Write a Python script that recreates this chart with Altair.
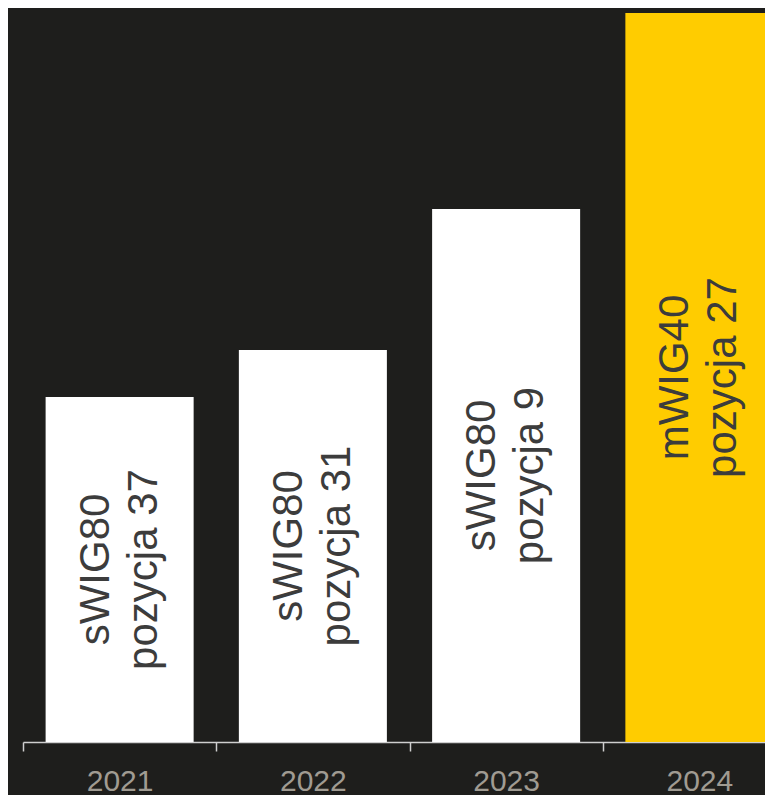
import altair as alt
import pandas as pd

years = ["2021", "2022", "2023", "2024"]
values = [345, 392, 533, 729]
index_names = ["sWIG80", "sWIG80", "sWIG80", "mWIG40"]
positions = ["pozycja 37", "pozycja 31", "pozycja 9", "pozycja 27"]
bar_colors = ["#ffffff", "#ffffff", "#ffffff", "#ffcc00"]

df = pd.DataFrame({
    "year": years,
    "value": values,
    "label": [[a, b] for a, b in zip(index_names, positions)],
})
df["mid"] = df["value"] / 2

xscale = alt.Scale(range=[0, 773], paddingInner=0, paddingOuter=0)

x = alt.X(
    "year:N",
    sort=years,
    scale=xscale,
    axis=alt.Axis(
        title=None,
        labelAngle=0,
        tickBand="extent",
        labelFont="Liberation Sans",
        labelFontSize=30,
        labelColor="#a09b92",
        labelBaseline="alphabetic",
        labelPadding=39,
        tickSize=9,
        tickColor="#cfcfcf",
        tickWidth=1.5,
        domainColor="#cfcfcf",
        domainWidth=1.5,
        grid=False,
    ),
)

bars = alt.Chart(df).mark_bar(width=alt.RelativeBandSize(0.766)).encode(
    x=x,
    y=alt.Y("value:Q", scale=alt.Scale(domain=[0, 729], nice=False), axis=None),
    color=alt.Color("year:N", scale=alt.Scale(domain=years, range=bar_colors), legend=None),
)

texts = alt.Chart(df).mark_text(
    angle=270,
    align="center",
    baseline="middle",
    font="Liberation Sans",
    fontSize=42,
    lineHeight=48,
    dy=-24,
    color="#3c3c3c",
).encode(
    x=alt.X("year:N", sort=years),
    y=alt.Y("mid:Q"),
    text="label",
)

chart = (
    alt.layer(bars, texts)
    .properties(
        width=742,
        height=729,
        background="#1e1e1c",
        padding={"left": 15, "top": 5, "right": 0, "bottom": 53},
        autosize=alt.AutoSizeParams(type="none"),
    )
    .configure_view(strokeWidth=0)
)

chart.save("out.html", embed_options={"renderer": "svg", "actions": False})
